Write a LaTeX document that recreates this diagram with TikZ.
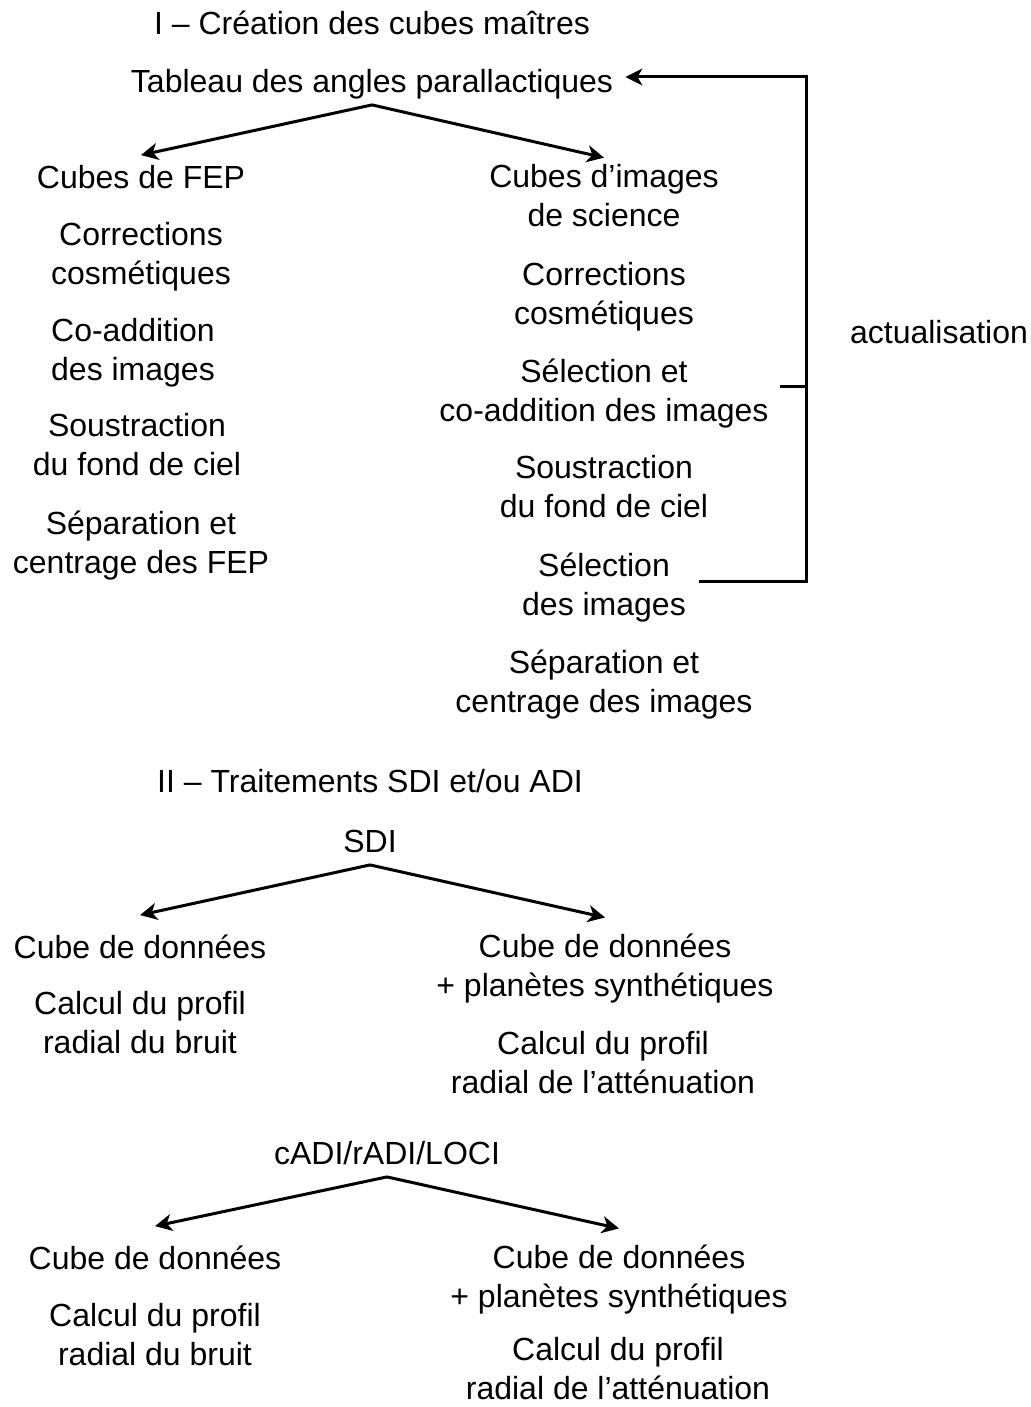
\documentclass[tikz,border=0pt]{standalone}
\usepackage{fontspec}
\setmainfont{Liberation Sans}
\usetikzlibrary{arrows.meta}
\newcommand\lbfont{\fontsize{16}{19.5}\selectfont}

\begin{document}
\begin{tikzpicture}[x=0.5pt, y=-0.5pt,
  lbl/.style={align=center, font=\lbfont, inner sep=0pt,
    execute at begin node=\strut, execute at end node=\strut},
  arr/.style={line width=1.5pt, -{Stealth[length=8.5pt,width=8.5pt,inset=2.5pt]}}]
  \useasboundingbox (0,0) rectangle (1031,1407);

  % Part I
  \node[lbl] (t1) at (372,27) {I – Création des cubes maîtres};
  \node[lbl] (tab) at (372,85) {Tableau des angles parallactiques};

  % FEP column
  \node[lbl] (fep1) at (141,181) {Cubes de FEP};
  \node[lbl] (fep2) at (141,259) {Corrections\\cosmétiques};
  \node[lbl] (fep3) at (133,355) {Co-addition\\des images};
  \node[lbl] (fep4) at (137,450) {Soustraction\\du fond de ciel};
  \node[lbl] (fep5) at (141,548) {Séparation et\\centrage des FEP};

  % Science column
  \node[lbl] (sci1) at (604,201) {Cubes d’images\\de science};
  \node[lbl] (sci2) at (604,299) {Corrections\\cosmétiques};
  \node[lbl] (sci3) at (604,396) {Sélection et\\co-addition des images};
  \node[lbl] (sci4) at (604,492) {Soustraction\\du fond de ciel};
  \node[lbl] (sci5) at (604,590) {Sélection\\des images};
  \node[lbl] (sci6) at (604,687) {Séparation et\\centrage des images};

  \draw[arr] (tab.south) -- ([yshift=3pt]fep1.north);
  \draw[arr] (tab.south) -- ([yshift=3pt]sci1.north);

  % Feedback loop
  \coordinate (up) at (806,77);
  \coordinate (dn) at (806,581);
  \draw[arr, line join=miter] ([xshift=6.5pt]sci5.east |- dn) -- (dn) -- (up)
    -- ([xshift=6pt]tab.east |- up);
  \draw[line width=1.5pt] ([xshift=5.5pt]sci3.east |- 0,386) -- (806,386);
  \node[lbl] (act) at (939,336) {actualisation};

  % Part II
  \node[lbl] (t2) at (370,785) {II – Traitements SDI et/ou ADI};

  % SDI
  \node[lbl] (sdi) at (370,845) {SDI};
  \node[lbl] (sdiA) at (140,951) {Cube de données};
  \node[lbl] (sdiB) at (140,1028) {Calcul du profil\\radial du bruit};
  \node[lbl] (sdiC) at (605,971) {Cube de données\\+ planètes synthétiques};
  \node[lbl] (sdiD) at (603,1068) {Calcul du profil\\radial de l’atténuation};
  \draw[arr] (sdi.south) -- ([yshift=8pt]sdiA.north);
  \draw[arr] (sdi.south) -- ([yshift=8pt]sdiC.north);

  % ADI
  \node[lbl] (adi) at (387,1157) {cADI/rADI/LOCI};
  \node[lbl] (adiA) at (155,1262) {Cube de données};
  \node[lbl] (adiB) at (155,1340) {Calcul du profil\\radial du bruit};
  \node[lbl] (adiC) at (619,1282) {Cube de données\\+ planètes synthétiques};
  \node[lbl, execute at end node={}] (adiD) at (618,1374)
    {Calcul du profil\\radial de l’atténuation};
  \draw[arr] (adi.south) -- ([yshift=8pt]adiA.north);
  \draw[arr] (adi.south) -- ([yshift=8pt]adiC.north);
\end{tikzpicture}
\end{document}
